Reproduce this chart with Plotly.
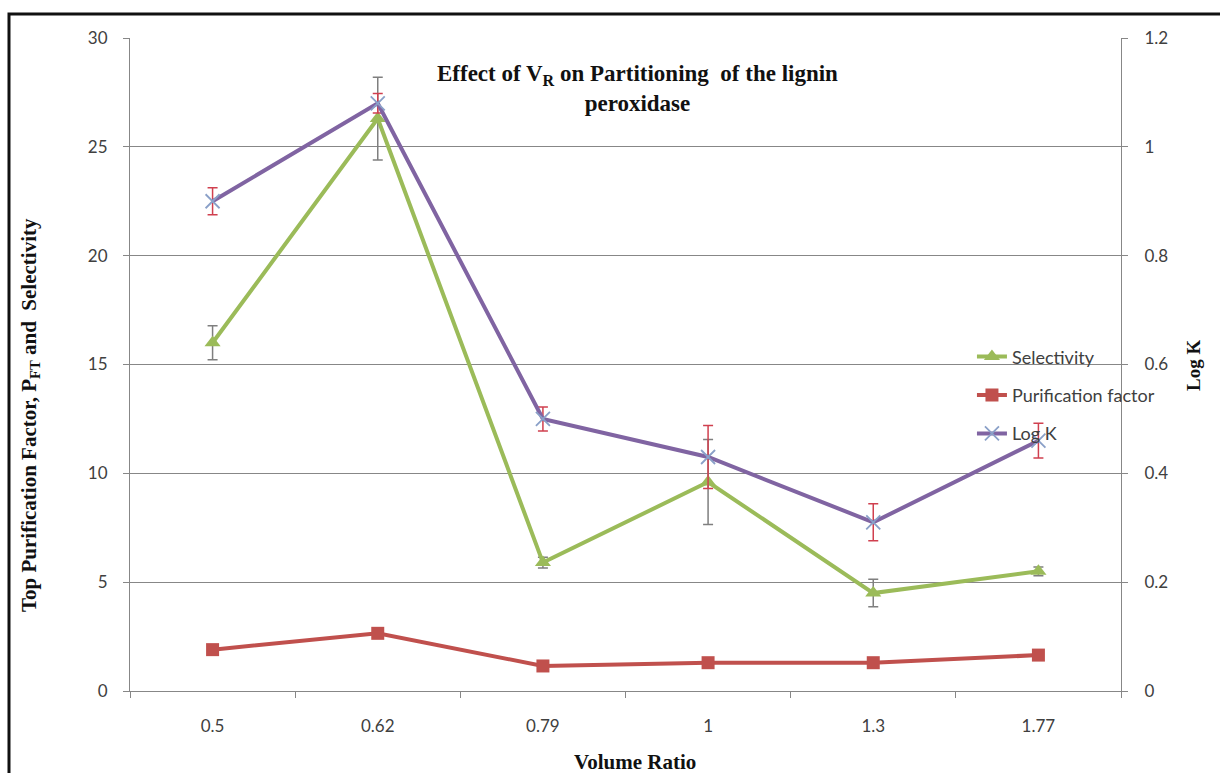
import plotly.graph_objects as go

# Volume ratio categories
volume_ratio = ["0.5", "0.62", "0.79", "1", "1.3", "1.77"]

# Left axis series
selectivity = [16.0, 26.3, 5.9, 9.6, 4.5, 5.5]
selectivity_err = [0.78, 1.9, 0.25, 1.95, 0.63, 0.2]
purification_factor = [1.9, 2.65, 1.15, 1.3, 1.3, 1.65]

# Right axis series
log_k = [0.9, 1.08, 0.5, 0.43, 0.31, 0.46]
log_k_err = [0.025, 0.018, 0.022, 0.058, 0.034, 0.032]

left_ticks = [0, 5, 10, 15, 20, 25, 30]
right_ticks = [0, 0.2, 0.4, 0.6, 0.8, 1.0, 1.2]

GREEN = "#9BBB59"
RED = "#C0504D"
PURPLE = "#8064A2"
GRID = "#878787"
SANS = "Lato, Open Sans, sans-serif"
TICK_FONT = dict(family=SANS, size=17, color="#404040")
SERIF = "Liberation Serif, Times New Roman, serif"

fig = go.Figure()

fig.add_trace(go.Scatter(
    x=volume_ratio, y=selectivity, name="Selectivity", legendgroup="a",
    mode="lines+markers",
    line=dict(color=GREEN, width=4),
    marker=dict(symbol="triangle-up", size=14, color=GREEN),
    error_y=dict(type="data", array=selectivity_err, color="#7f7f7f",
                 thickness=1.5, width=5),
))

fig.add_trace(go.Scatter(
    x=volume_ratio, y=purification_factor, name="Purification factor",
    legendgroup="b", mode="lines+markers",
    line=dict(color=RED, width=4),
    marker=dict(symbol="square", size=13, color=RED),
))

fig.add_trace(go.Scatter(
    x=volume_ratio, y=log_k, name="Log K", legendgroup="c", yaxis="y2",
    mode="lines+markers",
    line=dict(color=PURPLE, width=4),
    marker=dict(symbol="x-thin", size=14, color="#8aa0c8",
                line=dict(color="#8aa0c8", width=1.8)),
    error_y=dict(type="data", array=log_k_err, color="#d0404f",
                 thickness=1.5, width=5),
))

fig.update_layout(
    width=1220, height=773,
    margin=dict(l=130, r=99, t=38, b=82),
    paper_bgcolor="white", plot_bgcolor="white",
    showlegend=True,
    legend=dict(
        x=0.8496, y=0.54, xanchor="left", yanchor="top",
        bgcolor="rgba(0,0,0,0)", traceorder="grouped", tracegroupgap=12,
        font=dict(family=SANS, size=18, color="#404040"),
    ),
    xaxis=dict(
        type="category", range=[-0.5, 5.5],
        showline=True, linecolor=GRID, linewidth=1,
        ticks="outside", tickson="boundaries", ticklen=6, tickcolor=GRID,
        showgrid=False, tickfont=TICK_FONT, zeroline=False,
        ticklabelstandoff=20,
    ),
    yaxis=dict(
        range=[0, 30], tickvals=left_ticks,
        showline=True, linecolor=GRID, linewidth=1,
        ticks="outside", ticklen=6, tickcolor=GRID,
        showgrid=True, gridcolor=GRID, gridwidth=1,
        zeroline=False, tickfont=TICK_FONT, ticklabelstandoff=12,
    ),
    yaxis2=dict(
        range=[0, 1.2], tickvals=right_ticks, overlaying="y", side="right",
        showline=True, linecolor=GRID, linewidth=1,
        ticks="outside", ticklen=6, tickcolor=GRID,
        showgrid=False, zeroline=False, tickfont=TICK_FONT,
        ticklabelstandoff=13,
    ),
    annotations=[
        dict(text="<b>Effect of V<sub>R</sub> on Partitioning  of the lignin<br>peroxidase</b>",
             x=0.5126, y=0.9234, xref="paper", yref="paper",
             xanchor="center", yanchor="middle", showarrow=False,
             font=dict(family=SERIF, size=23, color="#111111")),
        dict(text="<b>Top Purification Factor, P<sub>FT</sub> and  Selectivity</b>",
             x=-0.1009, y=0.4227, xref="paper", yref="paper", textangle=-90,
             xanchor="center", yanchor="middle", showarrow=False,
             font=dict(family=SERIF, size=21, color="#111111")),
        dict(text="<b>Log K</b>",
             x=1.0727, y=0.4977, xref="paper", yref="paper", textangle=-90,
             xanchor="center", yanchor="middle", showarrow=False,
             font=dict(family=SERIF, size=19, color="#111111")),
        dict(text="<b>Volume Ratio</b>",
             x=0.5096, y=-0.1087, xref="paper", yref="paper",
             xanchor="center", yanchor="middle", showarrow=False,
             font=dict(family=SERIF, size=21, color="#111111")),
    ],
    shapes=[
        dict(type="rect", xref="paper", yref="paper",
             x0=-0.1221, y0=-0.15, x1=1.12, y1=1.0367,
             line=dict(color="#111111", width=3), fillcolor="rgba(0,0,0,0)",
             layer="above"),
    ],
)

fig.write_html("out.html")
